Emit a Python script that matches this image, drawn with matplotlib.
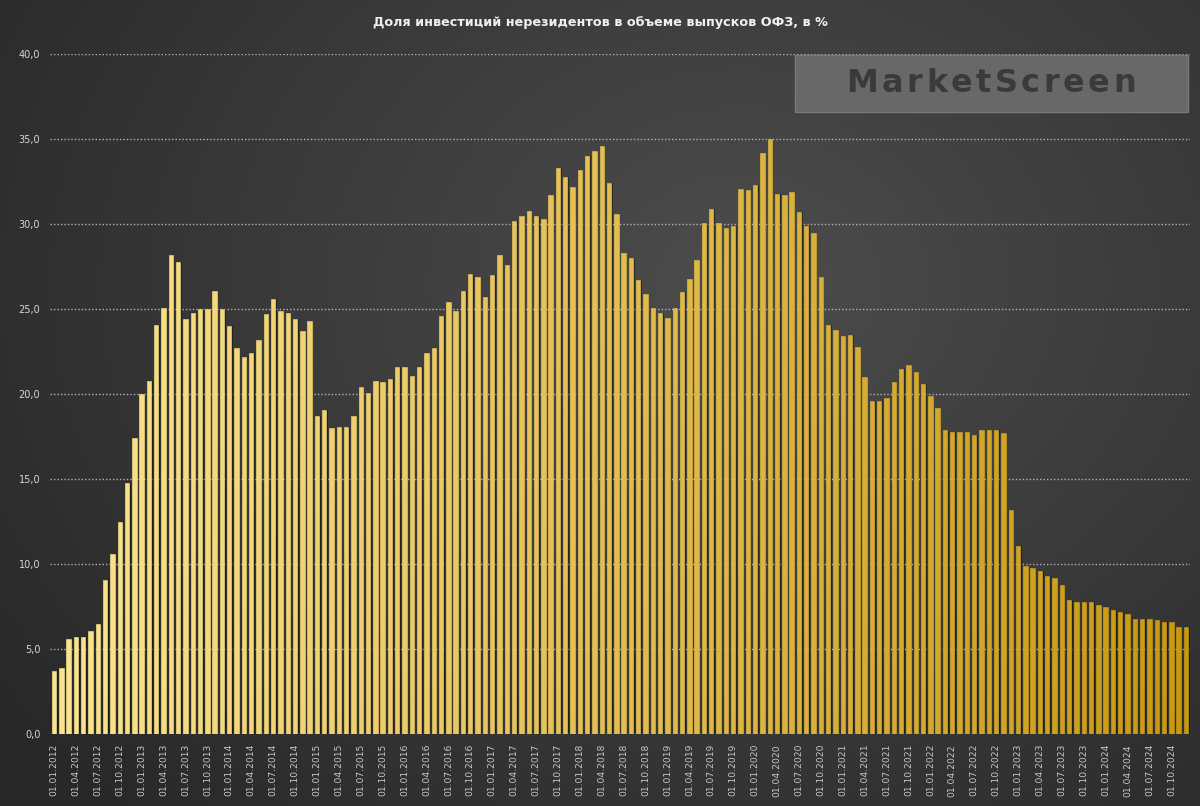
import matplotlib
matplotlib.use("Agg")
import matplotlib.pyplot as plt
import numpy as np
import pandas as pd

# monthly share of non-residents in OFZ, %, Jan 2012 .. Dec 2024
values = [
    3.7, 3.9, 5.6, 5.7, 5.7, 6.1, 6.5, 9.1, 10.6, 12.5, 14.8, 17.4,
    20.0, 20.8, 24.1, 25.1, 28.2, 27.8, 24.4, 24.8, 25.0, 25.0, 26.1, 25.0,
    24.0, 22.7, 22.2, 22.4, 23.2, 24.7, 25.6, 24.9, 24.8, 24.4, 23.7, 24.3,
    18.7, 19.1, 18.0, 18.1, 18.1, 18.7, 20.4, 20.1, 20.8, 20.7, 20.9, 21.6,
    21.6, 21.1, 21.6, 22.4, 22.7, 24.6, 25.4, 24.9, 26.1, 27.1, 26.9, 25.7,
    27.0, 28.2, 27.6, 30.2, 30.5, 30.8, 30.5, 30.3, 31.7, 33.3, 32.8, 32.2,
    33.2, 34.0, 34.3, 34.6, 32.4, 30.6, 28.3, 28.0, 26.7, 25.9, 25.1, 24.8,
    24.5, 25.1, 26.0, 26.8, 27.9, 30.1, 30.9, 30.1, 29.8, 29.9, 32.1, 32.0,
    32.3, 34.2, 35.0, 31.8, 31.7, 31.9, 30.7, 29.9, 29.5, 26.9, 24.1, 23.8,
    23.4, 23.5, 22.8, 21.0, 19.6, 19.6, 19.8, 20.7, 21.5, 21.7, 21.3, 20.6,
    19.9, 19.2, 17.9, 17.8, 17.8, 17.8, 17.6, 17.9, 17.9, 17.9, 17.7, 13.2,
    11.1, 9.9, 9.8, 9.6, 9.3, 9.2, 8.8, 7.9, 7.8, 7.8, 7.8, 7.6,
    7.5, 7.3, 7.2, 7.1, 6.8, 6.8, 6.8, 6.7, 6.6, 6.6, 6.3, 6.3,
]
dates = pd.date_range("2012-01-01", periods=len(values), freq="MS")
labels = [d.strftime("%d.%m.%Y") for d in dates]
title = "Доля инвестиций нерезидентов в объеме выпусков ОФЗ, в %"
yticks = [0, 5, 10, 15, 20, 25, 30, 35, 40]

fig = plt.figure(figsize=(12, 8.06), dpi=100)

# dark gradient background
bg = fig.add_axes([0, 0, 1, 1], zorder=0)
gx, gy = np.meshgrid(np.linspace(0, 1, 400), np.linspace(0, 1, 270))
d = np.sqrt(((gx - 0.62) / 0.75) ** 2 + ((gy - 0.35) / 0.9) ** 2)
shade = np.clip(0.30 - 0.14 * d, 0.16, 0.30)
bg.imshow(np.dstack([shade, shade, shade]), extent=[0, 1, 0, 1], aspect="auto")
bg.axis("off")

ax = fig.add_axes([50 / 1200, 0.089, 1140 / 1200, 0.8437], zorder=1)
ax.set_facecolor("none")

n = len(values)
x = np.arange(n)
c0 = np.array([253, 227, 142]) / 255
c1 = np.array([200, 152, 14]) / 255
t = x / (n - 1)
colors = [c0 + (c1 - c0) * k for k in t]
edges = [tuple(np.minimum(c * 1.08, 1)) for c in colors]
colors = [tuple(c) for c in colors]

ax.bar(x + 0.18, values, width=0.62, color="black", alpha=0.4, zorder=2)
ax.bar(x, values, width=0.6, color=colors, edgecolor=edges, linewidth=0.4, zorder=3)

ax.set_xlim(-0.55, n - 0.45)
ax.set_ylim(0, 40)
ax.set_yticks(yticks)
ax.set_yticklabels([f"{v:.1f}".replace(".", ",") for v in yticks], color="#d2d6dc", fontsize=7)
ax.set_xticks(x[::3])
ax.set_xticklabels(labels[::3], rotation=90, color="#c4c8cc", fontsize=6.6)
ax.tick_params(axis="both", length=0, pad=7)
ax.grid(axis="y", linestyle=(0, (1, 1.5)), color="#b4b4b4", linewidth=1, zorder=1)
for s in ax.spines.values():
    s.set_visible(False)
ax.set_axisbelow(True)

fig.text(0.5, 0.972, title, ha="center", va="center", color="#f0f0f0",
         fontsize=9.2, fontweight="bold")

# watermark
box = plt.Rectangle((795 / 1200, (806 - 112) / 806), 393 / 1200, 57 / 806,
                    transform=fig.transFigure, facecolor="#686868",
                    edgecolor="#7a7a7a", linewidth=1, zorder=5)
fig.add_artist(box)

# spaced letters for the watermark word
word = "MarketScreen"
renderer = fig.canvas.get_renderer()
pieces = []
total = 0
gap = 3.5
for ch in word:
    tx = fig.text(0, 0, ch, color="#3a3a3a", fontsize=23, fontweight="bold",
                  va="center", ha="left", zorder=6)
    w = tx.get_window_extent(renderer).width
    pieces.append((tx, w))
    total += w + gap
total -= gap
xpos = 991 - total / 2
for tx, w in pieces:
    tx.set_position((xpos / 1200, (806 - 84) / 806))
    xpos += w + gap

fig.savefig("out.png", dpi=100)
